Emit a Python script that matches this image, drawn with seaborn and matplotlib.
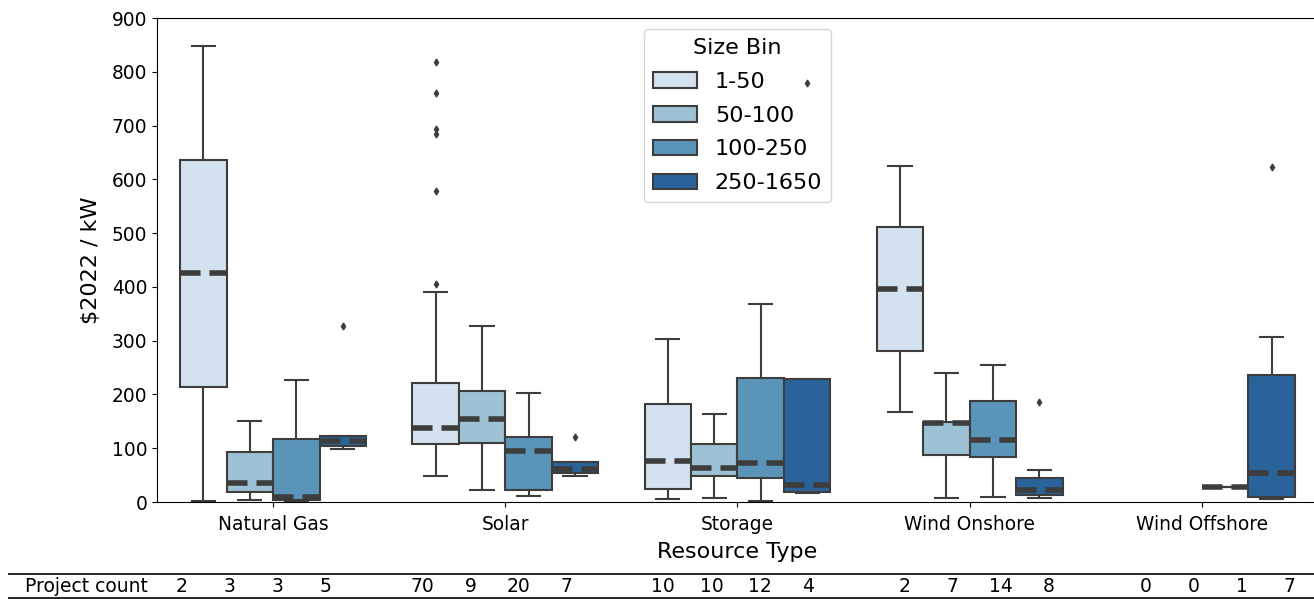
import matplotlib
matplotlib.use("Agg")
import matplotlib.pyplot as plt
import pandas as pd
import seaborn as sns

# ---------------- data ----------------
resource_types = ["Natural Gas", "Solar", "Storage", "Wind Onshore", "Wind Offshore"]
size_bins = ["1-50", "50-100", "100-250", "250-1650"]

# $2022 / kW per project
natural_gas_1_50 = [2, 848]
natural_gas_50_100 = [3, 35, 151]
natural_gas_100_250 = [0, 9, 227]
natural_gas_250_1650 = [98, 105, 113, 122, 328]

solar_1_50 = [49, 55, 62, 68, 72, 76, 80, 84, 87, 90, 93, 96, 98, 100, 102, 104, 106,
              107, 107,
              109, 111, 113, 115, 117, 119, 121, 123, 125, 127, 129, 131, 133, 135, 137,
              138, 138,
              142, 146, 150, 155, 160, 165, 170, 175, 181, 187, 193, 199, 205, 211, 217,
              222, 222,
              230, 240, 252, 265, 280, 295, 310, 328, 348, 370, 390,
              405, 578, 684, 693, 760, 819]
solar_50_100 = [22, 60, 109, 130, 155, 180, 206, 260, 328]
solar_100_250 = [11, 14, 17, 20, 22, 22, 40, 60, 80, 94, 94, 100, 108, 115, 121, 121,
                 140, 160, 180, 203]
solar_250_1650 = [48, 53, 53, 62, 74, 74, 121]

storage_1_50 = [5, 15, 24, 24, 70, 82, 182, 182, 250, 304]
storage_50_100 = [8, 30, 49, 49, 60, 68, 107, 107, 140, 164]
storage_100_250 = [2, 20, 44, 44, 55, 68, 76, 150, 231, 231, 300, 369]
storage_250_1650 = [16, 20, 44, 780]

wind_onshore_1_50 = [167, 625]
wind_onshore_50_100 = [7, 80, 94, 146, 148, 150, 240]
wind_onshore_100_250 = [9, 40, 70, 83, 83, 100, 115, 115, 150, 188, 188, 210, 235, 254]
wind_onshore_250_1650 = [7, 12, 13.3, 20, 24, 38.7, 60, 186]

wind_offshore_1_50 = []
wind_offshore_50_100 = []
wind_offshore_100_250 = [27]
wind_offshore_250_1650 = [5, 8, 12, 53, 167, 307, 623]

groups = [
    ("Natural Gas", "1-50", natural_gas_1_50),
    ("Natural Gas", "50-100", natural_gas_50_100),
    ("Natural Gas", "100-250", natural_gas_100_250),
    ("Natural Gas", "250-1650", natural_gas_250_1650),
    ("Solar", "1-50", solar_1_50),
    ("Solar", "50-100", solar_50_100),
    ("Solar", "100-250", solar_100_250),
    ("Solar", "250-1650", solar_250_1650),
    ("Storage", "1-50", storage_1_50),
    ("Storage", "50-100", storage_50_100),
    ("Storage", "100-250", storage_100_250),
    ("Storage", "250-1650", storage_250_1650),
    ("Wind Onshore", "1-50", wind_onshore_1_50),
    ("Wind Onshore", "50-100", wind_onshore_50_100),
    ("Wind Onshore", "100-250", wind_onshore_100_250),
    ("Wind Onshore", "250-1650", wind_onshore_250_1650),
    ("Wind Offshore", "1-50", wind_offshore_1_50),
    ("Wind Offshore", "50-100", wind_offshore_50_100),
    ("Wind Offshore", "100-250", wind_offshore_100_250),
    ("Wind Offshore", "250-1650", wind_offshore_250_1650),
]

rows = [(r, b, v) for r, b, vals in groups for v in vals]
df = pd.DataFrame(rows, columns=["Resource Type", "Size Bin", "cost"])

# ---------------- figure ----------------
W, H = 1314, 599
fig = plt.figure(figsize=(W / 100, H / 100), dpi=100)
ax_left, ax_right, ax_top, ax_bottom = 157, 1318, 18, 502
ax = fig.add_axes([ax_left / W, (H - ax_bottom) / H,
                   (ax_right - ax_left) / W, (ax_bottom - ax_top) / H])

line_col = "#3d3d3d"
sns.boxplot(
    data=df, x="Resource Type", y="cost", hue="Size Bin",
    order=resource_types, hue_order=size_bins,
    palette="Blues", saturation=0.75, width=0.8, gap=0, dodge=True,
    linewidth=1.5, linecolor=line_col, whis=1.5,
    flierprops=dict(marker="d", markersize=3.5, markerfacecolor=line_col,
                    markeredgecolor=line_col),
    medianprops=dict(linestyle="--", linewidth=4, color=line_col),
    ax=ax,
)

# boxes drawn above whiskers, below medians
for p in ax.patches:
    p.set_zorder(2.05)

ax.set_xlim(-0.5, 4.5)
ax.set_ylim(0, 900)
ax.set_yticks(range(0, 901, 100))
ax.tick_params(axis="both", labelsize=13.4)
ax.tick_params(axis="x", pad=5.5)
ax.set_xlabel("Resource Type", fontsize=16, labelpad=6)
ax.set_ylabel(r"\$2022 / kW", fontsize=16, labelpad=8)

sns.move_legend(ax, "upper center", title="Size Bin", fontsize=16, title_fontsize=16,
                labelspacing=0.62)

# fliers stay visible above the legend frame
for ln in ax.lines:
    if ln.get_marker() == "d":
        ln.set_zorder(6)

# ---------------- project count table ----------------
counts = []
for i, r in enumerate(resource_types):
    for b in size_bins:
        vals = [g[2] for g in groups if g[0] == r and g[1] == b][0]
        counts.append(str(len(vals)))
    if i < len(resource_types) - 1:
        counts.append("")
cell_text = [["Project count"] + counts]
col_widths = [149] + [48.2] * len(counts)

axw = ax_right - ax_left
axh = ax_bottom - ax_top
tx0, tx1, ty_top, ty_bot = 8, 1314, 574, 598
tbl = ax.table(
    cellText=cell_text, colWidths=col_widths, cellLoc="center", edges="horizontal",
    bbox=[(tx0 - ax_left) / axw, (ax_bottom - ty_bot) / axh,
          (tx1 - tx0) / axw, (ty_bot - ty_top) / axh],
)
tbl.auto_set_font_size(False)
tbl.set_fontsize(13.5)
for (r, c), cell in tbl.get_celld().items():
    cell.set_linewidth(1.2)
label_cell = tbl[0, 0]
label_cell.get_text().set_horizontalalignment("right")
label_cell.PAD = 0.06

fig.savefig("out.png", dpi=100)
